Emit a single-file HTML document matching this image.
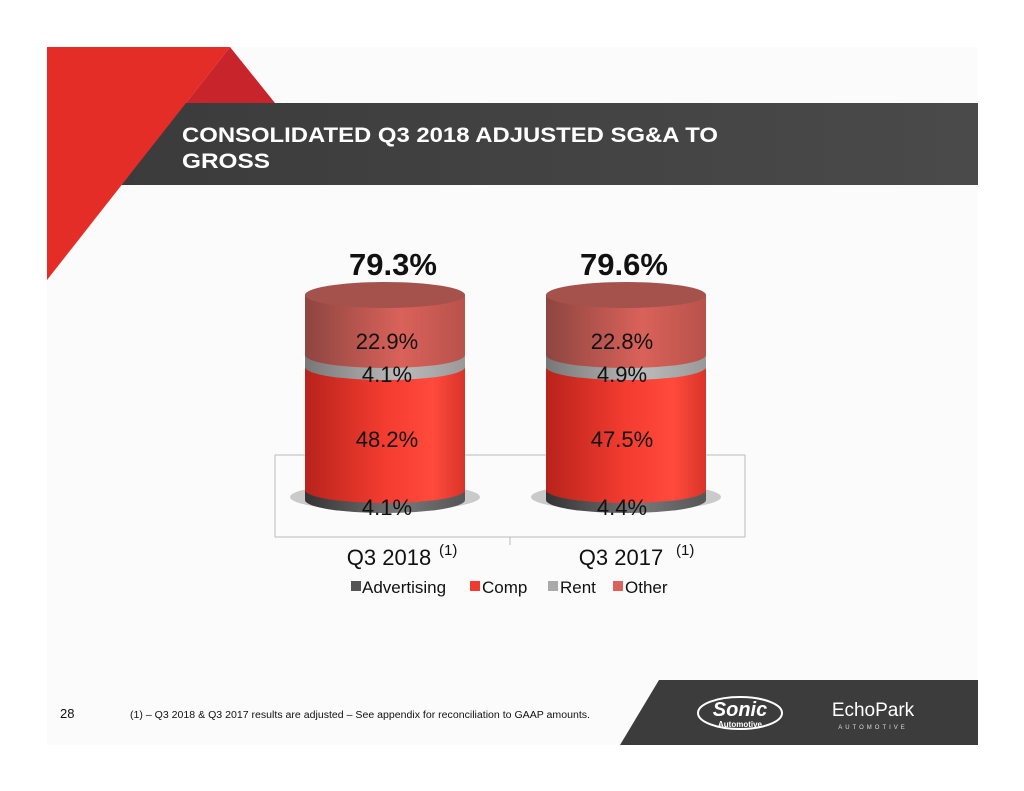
<!DOCTYPE html>
<html><head><style>body{margin:0;background:#fff}svg{display:block}</style></head><body>
<svg width="1024" height="791" viewBox="0 0 1024 791" font-family="Liberation Sans, Arial, sans-serif">
<defs>
<linearGradient id="other" x1="0" x2="1"><stop offset="0" stop-color="#8e4540"/><stop offset="0.6" stop-color="#d9625a"/><stop offset="1" stop-color="#b8524b"/></linearGradient>
<linearGradient id="comp" x1="0" x2="1"><stop offset="0" stop-color="#b8231b"/><stop offset="0.5" stop-color="#f43c30"/><stop offset="0.8" stop-color="#ff4a3c"/><stop offset="1" stop-color="#d8342a"/></linearGradient>
<linearGradient id="rent" x1="0" x2="1"><stop offset="0" stop-color="#777"/><stop offset="0.6" stop-color="#bbb"/><stop offset="1" stop-color="#999"/></linearGradient>
<linearGradient id="adv" x1="0" x2="1"><stop offset="0" stop-color="#333"/><stop offset="0.6" stop-color="#777"/><stop offset="1" stop-color="#555"/></linearGradient>
<linearGradient id="hdr" x1="0" x2="1"><stop offset="0" stop-color="#3a3a3a"/><stop offset="1" stop-color="#4a4a4a"/></linearGradient>
</defs>
<rect x="47" y="47" width="931" height="698" fill="#fbfbfb"/>
<polygon points="120,103 978,103 978,185 58,185" fill="url(#hdr)"/>
<polygon points="47,47 230,47 47,280" fill="#e52d27"/>
<polygon points="230,47 275,103 186,103" fill="#c8242b"/>
<text x="182" y="142" font-size="21" font-weight="bold" fill="#fff" textLength="536" lengthAdjust="spacingAndGlyphs">CONSOLIDATED Q3 2018 ADJUSTED SG&amp;A TO</text>
<text x="182" y="168" font-size="21" font-weight="bold" fill="#fff" textLength="88" lengthAdjust="spacingAndGlyphs">GROSS</text>
<rect x="275" y="455" width="470" height="82" fill="none" stroke="#bbb"/>
<line x1="510" y1="537" x2="510" y2="545" stroke="#bbb"/>
<g>
<ellipse cx="385" cy="497" rx="95" ry="14" fill="#999" opacity="0.5"/>
<path d="M305,490 L305,500 A80,13 0 0 0 465,500 L465,490 Z" fill="url(#adv)"/>
<path d="M305,367 L305,490 A80,13 0 0 0 465,490 L465,367 Z" fill="url(#comp)"/>
<path d="M305,355 L305,367 A80,13 0 0 0 465,367 L465,355 Z" fill="url(#rent)"/>
<path d="M305,295 L305,355 A80,13 0 0 0 465,355 L465,295 Z" fill="url(#other)"/>
<ellipse cx="385" cy="295" rx="80" ry="13" fill="#a5524c"/>
</g>
<g transform="translate(241,0)">
<ellipse cx="385" cy="497" rx="95" ry="14" fill="#999" opacity="0.5"/>
<path d="M305,490 L305,500 A80,13 0 0 0 465,500 L465,490 Z" fill="url(#adv)"/>
<path d="M305,367 L305,490 A80,13 0 0 0 465,490 L465,367 Z" fill="url(#comp)"/>
<path d="M305,355 L305,367 A80,13 0 0 0 465,367 L465,355 Z" fill="url(#rent)"/>
<path d="M305,295 L305,355 A80,13 0 0 0 465,355 L465,295 Z" fill="url(#other)"/>
<ellipse cx="385" cy="295" rx="80" ry="13" fill="#a5524c"/>
</g>
<g font-size="22" fill="#111" text-anchor="middle">
<text x="387" y="349">22.9%</text><text x="387" y="382">4.1%</text><text x="387" y="447">48.2%</text><text x="387" y="515">4.1%</text>
<text x="622" y="349">22.8%</text><text x="622" y="382">4.9%</text><text x="622" y="447">47.5%</text><text x="622" y="515">4.4%</text>
<text x="393" y="275" font-size="31" font-weight="bold">79.3%</text>
<text x="624" y="275" font-size="31" font-weight="bold">79.6%</text>
<text x="389" y="565">Q3 2018</text><text x="621" y="565">Q3 2017</text>
</g>
<text x="439" y="555" font-size="15" fill="#111">(1)</text>
<text x="676" y="555" font-size="15" fill="#111">(1)</text>
<g font-size="17" fill="#111">
<rect x="351" y="581" width="10" height="10" fill="#555"/><text x="362" y="593">Advertising</text>
<rect x="470" y="581" width="10" height="10" fill="#f03a2e"/><text x="482" y="593">Comp</text>
<rect x="548" y="581" width="10" height="10" fill="#aaa"/><text x="560" y="593">Rent</text>
<rect x="613" y="581" width="10" height="10" fill="#d9625a"/><text x="625" y="593">Other</text>
</g>
<polygon points="659,680 978,680 978,745 620,745" fill="#3c3c3c"/>
<text x="740" y="716" font-size="20" font-weight="bold" font-style="italic" fill="#fff" text-anchor="middle">Sonic</text>
<text x="740" y="727" font-size="8" font-weight="bold" fill="#fff" text-anchor="middle">Automotive</text>
<ellipse cx="740" cy="713" rx="42" ry="16" fill="none" stroke="#fff" stroke-width="2"/>
<text x="873" y="716" font-size="19" fill="#fff" text-anchor="middle">EchoPark</text>
<text x="873" y="729" font-size="6" fill="#ddd" text-anchor="middle" letter-spacing="3">AUTOMOTIVE</text>
<text x="60" y="718" font-size="13" fill="#111">28</text>
<text x="130" y="718" font-size="10" fill="#111" textLength="460" lengthAdjust="spacingAndGlyphs">(1)  – Q3 2018 &amp; Q3 2017 results are adjusted – See appendix for reconciliation to GAAP amounts.</text>
</svg>
</body></html>
